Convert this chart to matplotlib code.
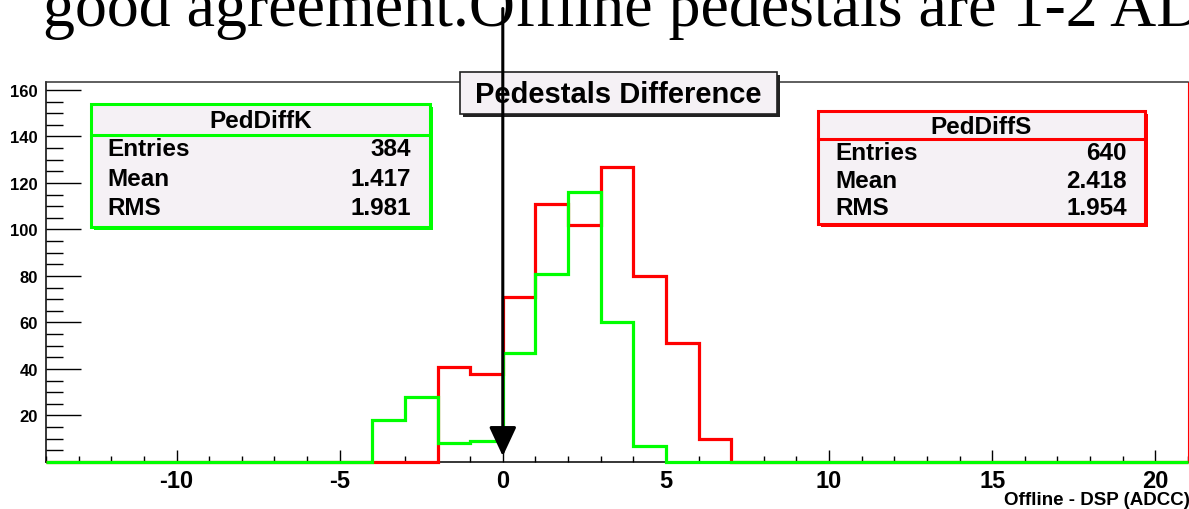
import matplotlib
matplotlib.use("Agg")
import matplotlib.pyplot as plt
from matplotlib.patches import Rectangle
from matplotlib.lines import Line2D
from matplotlib.ticker import MultipleLocator
import numpy as np

# bins of width 1 from -14 to 21
bin_edges = np.arange(-14, 22)
ped_diff_k = [0, 0, 0, 0, 0, 0, 0, 0, 0, 0,
              18, 28, 8, 9, 47, 81, 116, 60, 7,
              0, 0, 0, 0, 0, 0, 0, 0, 0, 0, 0, 0, 0, 0, 0, 0, 0]
ped_diff_s = [0, 0, 0, 0, 0, 0, 0, 0, 0, 0, 0, 0,
              41, 38, 71, 111, 102, 127, 80, 51, 10,
              0, 0, 0, 0, 0, 0, 0, 0, 0, 0, 0, 0, 0, 0]
ped_diff_k = ped_diff_k[:35]
ped_diff_s = ped_diff_s[:35]

stats_k = [("Entries", "384"), ("Mean", "1.417"), ("RMS", "1.981")]
stats_s = [("Entries", "640"), ("Mean", "2.418"), ("RMS", "1.954")]
y_ticks = [20, 40, 60, 80, 100, 120, 140, 160]
x_ticks = [-10, -5, 0, 5, 10, 15, 20]

W, H = 1189, 510
FILL = "#f5f1f5"
GREEN = "#00ff00"
RED = "#ff0000"

plt.rcParams["font.family"] = ["Liberation Sans", "DejaVu Sans"]
plt.rcParams["font.weight"] = "bold"
plt.rcParams["axes.unicode_minus"] = False

fig = plt.figure(figsize=(W / 100, H / 100), dpi=100)
ax = fig.add_axes([46 / W, (H - 463) / H, 1142 / W, 380 / H])


def fx(x):
    return x / W


def fy(y):
    return 1 - y / H


ax.stairs(ped_diff_s, bin_edges, color=RED, lw=2.3, clip_on=False, zorder=3)
ax.stairs(ped_diff_k, bin_edges, color=GREEN, lw=2.3, clip_on=False, zorder=3)

ax.set_xlim(-14, 21)
ax.set_ylim(0, 163.4)
ax.set_xticks(x_ticks)
ax.set_yticks(y_ticks)
ax.xaxis.set_minor_locator(MultipleLocator(1))
ax.yaxis.set_minor_locator(MultipleLocator(5))
ax.tick_params(axis="x", which="major", direction="in", length=8.5, width=1,
               labelsize=17, pad=5)
ax.tick_params(axis="x", which="minor", direction="in", length=4, width=1)
ax.tick_params(axis="y", which="major", direction="in", length=25, width=1,
               labelsize=12, pad=6)
ax.tick_params(axis="y", which="minor", direction="in", length=12, width=1)
for s in ["left", "bottom"]:
    ax.spines[s].set_linewidth(1.1)
ax.spines["top"].set_color("#333333")
ax.spines["top"].set_linewidth(1.1)
ax.spines["right"].set_color(RED)
ax.spines["right"].set_linewidth(0.8)

fig.text(fx(1190), fy(501), "Offline - DSP (ADCC)", ha="right", va="center",
         fontsize=13.5, fontweight="bold")


def box(x0, y0, x1, y1, edge, lw, shadow):
    d = 3
    ax.add_patch(Rectangle((fx(x0 + d), fy(y1 + d)), (x1 - x0) / W, (y1 - y0) / H,
                           transform=fig.transFigure, facecolor=shadow,
                           edgecolor="none", clip_on=False, zorder=4))
    ax.add_patch(Rectangle((fx(x0), fy(y1)), (x1 - x0) / W, (y1 - y0) / H,
                           transform=fig.transFigure, facecolor=FILL,
                           edgecolor=edge, lw=lw, clip_on=False, zorder=5))


def stats_box(x0, y0, x1, y1, ydiv, color, name, rows, row_y, xl, xr):
    box(x0, y0, x1, y1, color, 2.2, color)
    ax.add_line(Line2D([fx(x0), fx(x1)], [fy(ydiv), fy(ydiv)], color=color, lw=2.2,
                       transform=fig.transFigure, clip_on=False, zorder=6))
    ax.text(fx((x0 + x1) / 2), fy((y0 + ydiv) / 2 + 1), name, transform=fig.transFigure,
            ha="center", va="center", fontsize=17.5, fontweight="bold", zorder=7)
    for (lab, val), yy in zip(rows, row_y):
        ax.text(fx(xl), fy(yy), lab, transform=fig.transFigure, ha="left",
                va="center", fontsize=17.5, fontweight="bold", zorder=7)
        ax.text(fx(xr), fy(yy), val, transform=fig.transFigure, ha="right",
                va="center", fontsize=17.5, fontweight="bold", zorder=7)


stats_box(91, 105, 430, 228, 136, GREEN, "PedDiffK", stats_k, [150, 180, 209], 107, 411)
stats_box(818, 112, 1145, 225, 140, RED, "PedDiffS", stats_s, [153, 181, 209], 835, 1127)

# title box
box(460, 73, 777, 115, "#222222", 1.2, "#222222")
ax.text(fx(618), fy(95), "Pedestals Difference", transform=fig.transFigure,
        ha="center", va="center", fontsize=21, fontweight="bold", zorder=7)

# slide text cut off at the top
fig.text(fx(43), fy(26), "good agreement.Offline pedestals are 1-2 ADC",
         ha="left", va="baseline", fontsize=46, fontweight="normal",
         family="Liberation Serif")

# arrow pointing at zero
ax.annotate("", xy=(0, 2.5), xytext=(0, 195),
            arrowprops=dict(arrowstyle="-|>,head_length=0.9,head_width=0.42",
                            lw=2.2, color="black", mutation_scale=20,
                            shrinkA=0, shrinkB=0),
            annotation_clip=False, zorder=10)

fig.savefig("out.png", dpi=100)
